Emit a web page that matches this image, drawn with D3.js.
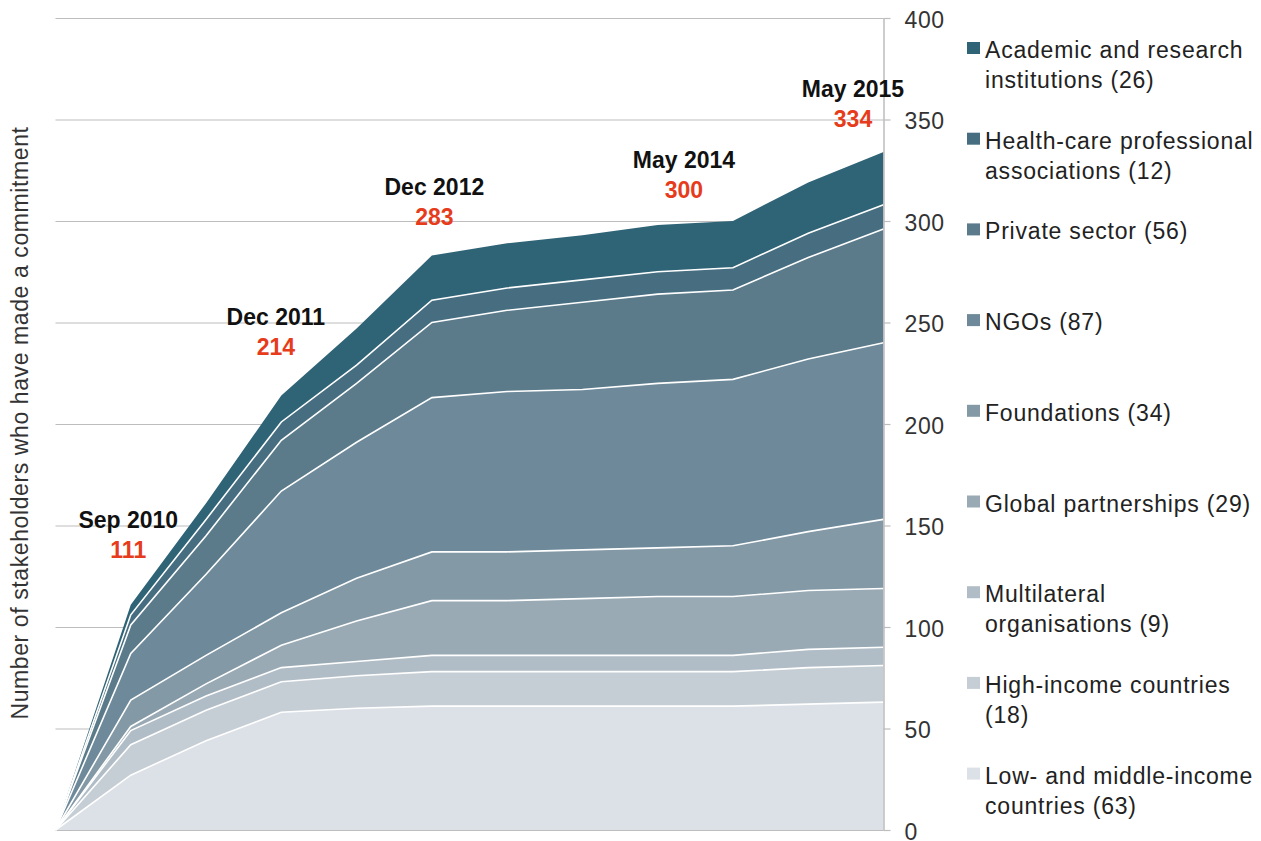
<!DOCTYPE html>
<html>
<head>
<meta charset="utf-8">
<script src="https://cdn.jsdelivr.net/npm/d3@7"></script>
<style>
  body { margin: 0; background: #fff; }
  text { font-family: "Helvetica Neue", "Liberation Sans", Arial, sans-serif; }
</style>
</head>
<body>
<svg id="vis" width="1261" height="841"></svg>
<script>
// reporting rounds (first one is the zero start)
const periods = [0, 1, 2, 3, 4, 5, 6, 7, 8, 9, 10, 11];

// stakeholders per group, bottom layer first
const lowMiddleIncome = [0, 27, 44, 58, 60, 61, 61, 61, 61, 61, 62, 63];
const highIncome      = [0, 15, 15, 15, 16, 17, 17, 17, 17, 17, 18, 18];
const multilateral    = [0, 7, 7, 7, 7, 8, 8, 8, 8, 8, 9, 9];
const globalPartners  = [0, 2, 6, 11, 20, 27, 27, 28, 29, 29, 29, 29];
const foundations     = [0, 13, 14, 16, 21, 24, 24, 24, 24, 25, 29, 34];
const ngos            = [0, 23, 40, 60, 67, 76, 79, 79, 81, 82, 85, 87];
const privateSector   = [0, 14, 19, 25, 29, 37, 40, 43, 44, 44, 50, 56];
const healthCare      = [0, 5, 8, 9, 9, 11, 11, 11, 11, 11, 12, 12];
const academic        = [0, 5, 8, 13, 18, 22, 22, 22, 23, 23, 25, 26];

const keys = ["lmic", "high", "multi", "global", "found", "ngo", "private", "health", "academic"];
const seriesValues = [lowMiddleIncome, highIncome, multilateral, globalPartners, foundations,
  ngos, privateSector, healthCare, academic];

const legendLabels = [
  ["Low- and middle-income", "countries (63)"],
  ["High-income countries", "(18)"],
  ["Multilateral", "organisations (9)"],
  ["Global partnerships (29)"],
  ["Foundations (34)"],
  ["NGOs (87)"],
  ["Private sector (56)"],
  ["Health-care professional", "associations (12)"],
  ["Academic and research", "institutions (26)"]
];

const colors = ["#dce0e7", "#c6ced5", "#b1bdc6", "#99aab5", "#8399a6", "#6e8a9a", "#5b7b8b", "#476e80", "#2f6376"];

const yTicks = [0, 50, 100, 150, 200, 250, 300, 350, 400];

const callouts = [
  { period: 1, name: "Sep 2010" },
  { period: 3, name: "Dec 2011" },
  { period: 5, name: "Dec 2012" },
  { period: 9, name: "May 2014" },
  { period: 11, name: "May 2015" }
];
// label placement relative to the top of the stack (dx, dy of the number baseline)
const calloutOffsets = [[-2.5, -47], [-5.5, -41], [2.5, -31], [-49, -23], [-30.5, -25]];

const svg = d3.select("#vis");
const margin = { left: 55.5, right: 883.5, top: 18, bottom: 830 };

const rows = periods.map((p, i) => {
  const r = { period: p };
  keys.forEach((k, j) => r[k] = seriesValues[j][i]);
  return r;
});
const stacked = d3.stack().keys(keys)(rows);

const x = d3.scalePoint().domain(periods).range([margin.left, margin.right]);
const y = d3.scaleLinear().domain([0, 400]).range([margin.bottom, margin.top]);

// gridlines behind the areas
svg.append("g")
  .attr("transform", `translate(${margin.right},0)`)
  .call(d3.axisLeft(y).tickValues(yTicks).tickSize(margin.right - margin.left).tickFormat(""))
  .call(g => g.select(".domain").remove())
  .call(g => g.selectAll("line").attr("stroke", "#bdbdbd").attr("stroke-width", 1.2));

const area = d3.area()
  .x(d => x(d.data.period))
  .y0(d => y(d[0]))
  .y1(d => y(d[1]));

svg.append("g").selectAll("path")
  .data(stacked)
  .join("path")
  .attr("fill", (d, i) => colors[i])
  .attr("d", area);

const edge = d3.line()
  .x(d => x(d.data.period))
  .y(d => y(d[1]));

svg.append("g").selectAll("path")
  .data(stacked.slice(0, -1))
  .join("path")
  .attr("fill", "none")
  .attr("stroke", "#fff")
  .attr("stroke-width", 1.6)
  .attr("d", edge);

// right axis
const axis = svg.append("g")
  .attr("transform", `translate(${margin.right},0)`)
  .call(d3.axisRight(y).tickValues(yTicks).tickSize(7).tickPadding(14).tickSizeOuter(0));
axis.select(".domain").attr("stroke", "#bdbdbd").attr("stroke-width", 1.5);
axis.selectAll("line").attr("stroke", "#bdbdbd").attr("stroke-width", 1.2);
axis.selectAll("text")
  .attr("font-size", 23)
  .attr("fill", "#333")
  .attr("dy", "0.4em")
  .style("letter-spacing", "0.6px")
  .style("font-weight", 300);

// axis title
svg.append("text")
  .attr("transform", "translate(28,423) rotate(-90)")
  .attr("text-anchor", "middle")
  .attr("font-size", 23)
  .attr("fill", "#333")
  .style("letter-spacing", "0.6px")
  .style("font-weight", 300)
  .text("Number of stakeholders who have made a commitment");

// callouts
const last = stacked[stacked.length - 1];
const cg = svg.append("g").attr("text-anchor", "middle").attr("font-weight", "bold").attr("font-size", 23);
callouts.forEach((c, i) => {
  const i0 = periods.indexOf(c.period);
  const total = last[i0][1];
  const cx = x(c.period) + calloutOffsets[i][0];
  const cy = y(total) + calloutOffsets[i][1];
  cg.append("text").attr("x", cx).attr("y", cy - 30).attr("fill", "#111").text(c.name);
  cg.append("text").attr("x", cx).attr("y", cy).attr("fill", "#e63c1c").text(total);
});

// legend, top item = top layer
const legend = svg.append("g").attr("transform", "translate(967,0)");
const items = legend.selectAll("g")
  .data(keys.map((k, i) => i).reverse())
  .join("g")
  .attr("transform", (d, j) => `translate(0,${58 + j * 90.7})`);
items.append("rect")
  .attr("x", 0).attr("y", -16).attr("width", 13).attr("height", 12)
  .attr("fill", d => colors[d]);
items.append("text")
  .attr("x", 18)
  .attr("font-size", 23)
  .attr("fill", "#222")
  .style("letter-spacing", "0.8px")
  .style("font-weight", 300)
  .selectAll("tspan")
  .data(d => legendLabels[d])
  .join("tspan")
  .attr("x", 18)
  .attr("dy", (d, j) => j === 0 ? 0 : 30)
  .text(d => d);
</script>
</body>
</html>
